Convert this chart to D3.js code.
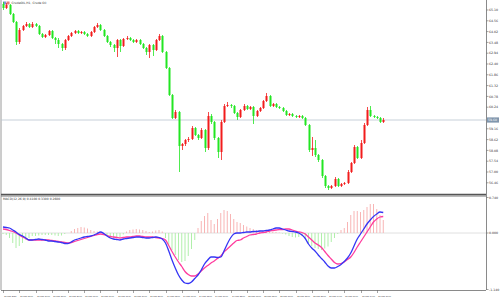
<!DOCTYPE html>
<html>
<head>
<meta charset="utf-8">
<script src="https://cdn.jsdelivr.net/npm/d3@7"></script>
<style>
  html, body { margin: 0; padding: 0; background: #fff; }
  svg { display: block; font-family: "DejaVu Sans", sans-serif; }
</style>
</head>
<body>
<div id="chart"></div>
<script>
"use strict";

// ─── Data (CrudeOIL H1 candles) ──────────────────────────────────────────────
const openP = [
  65.40,65.20,65.35,64.90,64.50,63.50,64.10,64.30,64.40,64.25,
  64.40,64.30,63.90,63.75,63.85,64.05,63.70,63.60,63.40,63.20,
  63.60,63.80,63.95,64.05,63.95,64.00,63.90,63.80,64.00,64.25,
  64.35,64.10,63.80,63.50,63.35,63.20,63.60,63.30,63.65,63.70,
  63.60,63.50,63.60,63.40,63.20,63.00,63.35,63.10,63.60,63.80,
  63.00,62.20,60.85,59.70,60.00,58.30,58.40,58.60,58.65,59.20,
  58.85,58.70,59.10,58.20,59.80,59.50,58.70,58.00,59.50,60.30,
  60.35,60.30,59.95,59.75,60.10,60.30,60.15,60.25,59.80,60.05,
  60.20,60.55,60.80,60.30,60.40,60.25,60.20,60.05,59.85,59.90,
  59.80,59.75,59.80,59.70,59.35,58.10,58.20,57.85,57.60,56.80,
  56.30,56.20,56.30,56.65,56.30,56.40,56.45,57.00,57.45,58.25,
  57.70,58.45,59.35,60.10,59.80,59.75,59.70,59.50
];
const highP = [
  65.50,65.45,65.40,64.95,64.55,64.20,64.35,64.50,64.45,64.50,
  64.45,64.35,63.95,63.90,64.10,64.10,63.75,63.70,63.45,63.65,
  63.85,64.00,64.10,64.10,64.05,64.05,63.95,64.05,64.30,64.45,
  64.40,64.15,63.85,63.55,63.40,63.65,63.65,63.70,63.80,63.75,
  63.65,63.65,63.65,63.45,63.25,63.40,63.40,63.65,63.90,63.85,
  63.05,62.25,60.90,60.10,60.05,58.45,58.65,58.75,59.30,59.25,
  58.90,59.20,59.15,60.00,59.90,59.55,58.75,59.60,60.40,60.50,
  60.40,60.35,60.00,60.15,60.40,60.35,60.30,60.30,60.10,60.25,
  60.60,60.95,60.85,60.45,60.45,60.30,60.25,60.10,59.95,59.95,
  59.85,59.85,59.85,59.75,59.40,58.75,58.60,57.90,57.65,56.85,
  56.35,56.35,56.75,56.70,56.45,56.50,57.10,57.50,58.35,58.30,
  58.60,59.45,60.25,60.30,59.85,59.80,59.75,59.70
];
const lowP = [
  65.10,65.15,64.85,64.45,63.35,63.40,64.05,64.25,64.20,64.20,
  64.25,63.85,63.70,63.70,63.80,63.65,63.40,63.20,63.05,63.10,
  63.55,63.75,63.90,63.90,63.90,63.85,63.75,63.75,63.95,64.20,
  64.05,63.75,63.45,63.25,63.00,62.75,63.00,63.25,63.60,63.55,
  63.45,63.45,63.35,63.15,62.85,62.70,62.80,63.05,63.55,62.95,
  62.15,60.80,59.65,59.65,57.00,58.10,58.30,58.50,58.60,58.80,
  58.60,58.65,58.00,58.10,59.40,58.60,57.70,57.60,59.45,60.25,
  60.20,59.90,59.60,59.70,60.05,60.10,60.10,59.40,59.75,60.00,
  60.15,60.50,60.25,60.25,60.20,60.15,60.00,59.80,59.80,59.75,
  59.70,59.70,59.65,59.30,58.00,57.80,57.75,57.50,56.70,56.20,
  56.10,56.15,56.25,56.25,56.25,56.35,56.40,56.95,57.40,57.65,
  57.65,58.40,59.30,59.75,59.70,59.65,59.45,59.45
];
const closeP = [
  65.20,65.35,64.90,64.50,63.50,64.10,64.30,64.40,64.25,64.40,
  64.30,63.90,63.75,63.85,64.05,63.70,63.60,63.40,63.20,63.60,
  63.80,63.95,64.05,63.95,64.00,63.90,63.80,64.00,64.25,64.35,
  64.10,63.80,63.50,63.35,63.20,63.60,63.30,63.65,63.70,63.60,
  63.50,63.60,63.40,63.20,63.00,63.35,63.10,63.60,63.80,63.00,
  62.20,60.85,59.70,60.00,58.30,58.40,58.60,58.65,59.20,58.85,
  58.70,59.10,58.20,59.80,59.50,58.70,58.00,59.50,60.30,60.35,
  60.30,59.95,59.75,60.10,60.30,60.15,60.25,59.80,60.05,60.20,
  60.55,60.80,60.30,60.40,60.25,60.20,60.05,59.85,59.90,59.80,
  59.75,59.80,59.70,59.35,58.10,58.20,57.85,57.60,56.80,56.30,
  56.20,56.30,56.65,56.30,56.40,56.45,57.00,57.45,58.25,57.70,
  58.45,59.35,60.10,59.80,59.75,59.70,59.50,59.60
];

// MACD(12,26,9) sub-window
const macdLine = [
  0.12,0.11,0.10,0.06,0.02,-0.03,-0.06,-0.10,-0.14,-0.14,
  -0.13,-0.12,-0.13,-0.14,-0.16,-0.16,-0.17,-0.18,-0.19,-0.21,
  -0.21,-0.18,-0.14,-0.12,-0.10,-0.08,-0.07,-0.06,-0.04,-0.01,
  0.02,-0.01,-0.06,-0.10,-0.12,-0.13,-0.14,-0.12,-0.11,-0.10,
  -0.09,-0.08,-0.08,-0.09,-0.10,-0.10,-0.09,-0.08,-0.09,-0.12,
  -0.20,-0.36,-0.54,-0.70,-0.84,-0.94,-1.00,-1.01,-0.98,-0.91,
  -0.84,-0.74,-0.62,-0.54,-0.48,-0.48,-0.49,-0.48,-0.36,-0.22,
  -0.10,-0.02,0.00,0.00,0.01,0.02,0.02,0.03,0.03,0.04,
  0.04,0.05,0.06,0.08,0.10,0.10,0.08,0.06,0.04,0.03,
  0.02,0.00,-0.04,-0.11,-0.22,-0.30,-0.36,-0.44,-0.51,-0.58,
  -0.66,-0.70,-0.70,-0.67,-0.63,-0.57,-0.50,-0.40,-0.26,-0.12,
  -0.02,0.08,0.18,0.26,0.33,0.38,0.42,0.41
];
const signalLine = [
  0.08,0.07,0.05,0.03,0.00,-0.04,-0.08,-0.11,-0.14,-0.14,
  -0.14,-0.14,-0.14,-0.14,-0.14,-0.15,-0.16,-0.17,-0.18,-0.19,
  -0.20,-0.19,-0.17,-0.15,-0.13,-0.11,-0.09,-0.07,-0.05,-0.03,
  -0.02,-0.03,-0.05,-0.07,-0.08,-0.09,-0.10,-0.09,-0.08,-0.08,
  -0.07,-0.06,-0.06,-0.07,-0.08,-0.08,-0.08,-0.09,-0.10,-0.11,
  -0.14,-0.25,-0.37,-0.48,-0.58,-0.67,-0.77,-0.83,-0.86,-0.86,
  -0.82,-0.76,-0.70,-0.65,-0.60,-0.56,-0.51,-0.46,-0.38,-0.32,
  -0.26,-0.20,-0.15,-0.14,-0.10,-0.07,-0.04,-0.03,-0.02,0.00,
  0.01,0.02,0.04,0.05,0.06,0.07,0.07,0.08,0.08,0.06,
  0.04,0.02,0.01,-0.02,-0.08,-0.14,-0.20,-0.24,-0.29,-0.37,
  -0.45,-0.52,-0.59,-0.62,-0.61,-0.58,-0.53,-0.48,-0.39,-0.28,
  -0.18,-0.08,0.02,0.12,0.22,0.28,0.32,0.33
];
const macdHist = [
  -0.02,-0.04,-0.10,-0.20,-0.30,-0.26,-0.20,-0.14,-0.10,-0.06,
  -0.06,-0.05,-0.04,-0.04,-0.04,-0.04,-0.05,-0.06,-0.05,-0.02,
  0.00,0.04,0.08,0.10,0.12,0.11,0.09,0.06,0.04,0.03,
  0.02,-0.02,-0.06,-0.09,-0.10,-0.10,-0.08,-0.03,0.03,0.06,
  0.07,0.08,0.07,0.06,0.04,0.02,0.03,0.05,0.06,0.03,
  -0.10,-0.24,-0.34,-0.44,-0.54,-0.58,-0.56,-0.46,-0.32,-0.14,
  0.10,0.24,0.34,0.40,0.26,0.18,0.28,0.40,0.46,0.44,
  0.38,0.28,0.22,0.20,0.16,0.13,0.10,0.08,0.06,0.05,
  0.04,0.04,0.03,0.02,0.02,0.01,-0.01,-0.03,-0.06,-0.08,
  -0.09,-0.08,-0.06,-0.10,-0.20,-0.26,-0.30,-0.32,-0.34,-0.31,
  -0.27,-0.18,-0.10,-0.02,0.06,0.10,0.22,0.36,0.44,0.44,
  0.42,0.46,0.52,0.58,0.58,0.48,0.36,0.26
];

// Axis labels
const priceTicks = [65.10,64.56,64.02,63.48,62.94,62.40,61.86,61.32,60.78,60.24,
                    59.70,59.16,58.62,58.08,57.54,57.00,56.46];
const macdTicks = [0.74, 0.00, -1.14];
const timeLabels = [
  "20 May 2021","20 May 05:00","20 May 10:00","20 May 15:00","20 May 20:00",
  "21 May 01:00","21 May 06:00","21 May 11:00","21 May 16:00","21 May 21:00",
  "24 May 02:00","24 May 07:00","24 May 12:00","24 May 17:00","24 May 22:00",
  "25 May 03:00","25 May 08:00","25 May 13:00","25 May 18:00","25 May 23:00",
  "26 May 04:00","26 May 09:00","26 May 14:00","26 May 19:00"
];
const LABEL_EVERY = 5;
const currentPrice = 59.60;

// ─── Layout ──────────────────────────────────────────────────────────────────
const W = 500, H = 300;
const L = 1, R = 486;
const mainTop = 0, mainBottom = 194;
const subTop = 196, subBottom = 290;

const UP = "#f21c1c", DOWN = "#22e622";

const svg = d3.select("#chart").append("svg")
  .attr("width", W).attr("height", H)
  .attr("viewBox", `0 0 ${W} ${H}`);

svg.append("rect").attr("width", W).attr("height", H).attr("fill", "#fff");

const N = closeP.length;
const x = d3.scaleLinear().domain([0, N - 1]).range([3, 383.25]);
const y = d3.scaleLinear().domain([55.90, 65.60]).range([mainBottom, mainTop]);
const ym = d3.scaleLinear().domain([-1.14, 0.74]).range([subBottom, subTop]);

// ── Frames ──────────────────────────────────────────────────────────────
svg.append("line").attr("x1", L).attr("x2", L).attr("y1", 0).attr("y2", subBottom)
  .attr("stroke", "#9a9a9a").attr("stroke-width", 1);
svg.append("line").attr("x1", R + 0.5).attr("x2", R + 0.5).attr("y1", 0).attr("y2", subBottom)
  .attr("stroke", "#8a8a8a").attr("stroke-width", 1);
svg.append("line").attr("x1", L).attr("x2", R).attr("y1", mainBottom + 0.5).attr("y2", mainBottom + 0.5)
  .attr("stroke", "#555").attr("stroke-width", 1.5);
svg.append("line").attr("x1", L).attr("x2", R).attr("y1", subTop).attr("y2", subTop)
  .attr("stroke", "#777").attr("stroke-width", 1);
svg.append("line").attr("x1", L).attr("x2", R).attr("y1", subBottom + 0.5).attr("y2", subBottom + 0.5)
  .attr("stroke", "#8a8a8a").attr("stroke-width", 1);

// ── Price axis ──────────────────────────────────────────────────────────
const pAxis = svg.append("g").attr("transform", `translate(${R + 0.5},0)`);
priceTicks.forEach((t) => {
  const ty = y(t);
  if (Math.abs(ty - y(currentPrice)) < 5) return; // hidden by price label
  pAxis.append("line").attr("x1", 0).attr("x2", 2).attr("y1", ty).attr("y2", ty)
    .attr("stroke", "#666").attr("stroke-width", 0.6);
  pAxis.append("text").attr("x", 2.5).attr("y", ty + 1.1)
    .attr("font-size", 3.2).attr("fill", "#333").text(t.toFixed(2));
});

// Current price line + label
svg.append("line").attr("x1", L).attr("x2", R).attr("y1", y(currentPrice)).attr("y2", y(currentPrice))
  .attr("stroke", "#b9c4cf").attr("stroke-width", 0.8);
svg.append("rect").attr("x", R + 1).attr("y", y(currentPrice) - 2.6).attr("width", 12).attr("height", 5.2)
  .attr("fill", "#8096ad");
svg.append("text").attr("x", R + 2).attr("y", y(currentPrice) + 1.1)
  .attr("font-size", 3.2).attr("fill", "#fff").text(currentPrice.toFixed(2));

// ── Title ───────────────────────────────────────────────────────────────
svg.append("rect").attr("x", 3).attr("y", 1.5).attr("width", 3).attr("height", 3).attr("fill", "#7d8fd6");
svg.append("rect").attr("x", 6.5).attr("y", 1.5).attr("width", 3).attr("height", 3).attr("fill", "#e07b7b");
svg.append("text").attr("x", 11.5).attr("y", 4.3).attr("font-size", 3)
  .attr("fill", "#333").text("CrudeOIL,H1, Crude Oil");

// ── Candles ─────────────────────────────────────────────────────────────
const candles = svg.append("g");
d3.range(N).forEach((i) => {
  const col = closeP[i] > openP[i] ? UP : DOWN;
  const cx = Math.round(x(i)) + 0.5;
  candles.append("line")
    .attr("x1", cx).attr("x2", cx)
    .attr("y1", y(highP[i])).attr("y2", y(lowP[i]))
    .attr("stroke", col).attr("stroke-width", 0.8);
  const top = y(Math.max(openP[i], closeP[i]));
  const bot = y(Math.min(openP[i], closeP[i]));
  candles.append("rect")
    .attr("x", cx - 1).attr("y", top)
    .attr("width", 2).attr("height", Math.max(1, bot - top))
    .attr("fill", col);
});

// ── MACD sub-window ─────────────────────────────────────────────────────
svg.append("line").attr("x1", L).attr("x2", R).attr("y1", ym(0)).attr("y2", ym(0))
  .attr("stroke", "#d8d8d8").attr("stroke-width", 0.8);

svg.append("g").selectAll("line").data(macdHist).join("line")
  .attr("x1", (d, i) => x(i)).attr("x2", (d, i) => x(i))
  .attr("y1", ym(0)).attr("y2", (d) => ym(d))
  .attr("stroke", (d) => d >= 0 ? "#f8b4b4" : "#b0efaa")
  .attr("stroke-width", 1);

const lineGen = d3.line().x((d, i) => x(i)).y((d) => ym(d)).curve(d3.curveMonotoneX);
svg.append("path").datum(signalLine).attr("d", lineGen)
  .attr("fill", "none").attr("stroke", "#ff3d9e").attr("stroke-width", 1.3);
svg.append("path").datum(macdLine).attr("d", lineGen)
  .attr("fill", "none").attr("stroke", "#3535f5").attr("stroke-width", 1.3);

svg.append("text").attr("x", 3).attr("y", 199.5).attr("font-size", 3)
  .attr("fill", "#333")
  .text(`MACD(12,26,9) ${macdLine[N - 1].toFixed(4)} ${signalLine[N - 1].toFixed(4)} ${macdHist[N - 1].toFixed(4)}`);

const mAxis = svg.append("g").attr("transform", `translate(${R + 0.5},0)`);
macdTicks.forEach((t, k) => {
  const ty = k === 0 ? ym(t) + 1.5 : k === macdTicks.length - 1 ? ym(t) - 0.5 : ym(t);
  mAxis.append("line").attr("x1", 0).attr("x2", 2).attr("y1", ty).attr("y2", ty)
    .attr("stroke", "#666").attr("stroke-width", 0.6);
  mAxis.append("text").attr("x", 2.5).attr("y", ty + 1.1)
    .attr("font-size", 3.2).attr("fill", "#333").text(t.toFixed(3));
});

// ── Time axis ───────────────────────────────────────────────────────────
const tAxis = svg.append("g");
timeLabels.forEach((lab, k) => {
  const tx = Math.round(x(k * LABEL_EVERY)) + 0.5;
  tAxis.append("line").attr("x1", tx).attr("x2", tx).attr("y1", subBottom).attr("y2", subBottom + 3)
    .attr("stroke", "#666").attr("stroke-width", 0.6);
  tAxis.append("text").attr("x", tx + 0.8).attr("y", subBottom + 6.5)
    .attr("font-family", "'Liberation Sans', Arial, sans-serif")
    .attr("font-size", 2.1).attr("fill", "#333")
    .text(lab);
});
</script>
</body>
</html>
